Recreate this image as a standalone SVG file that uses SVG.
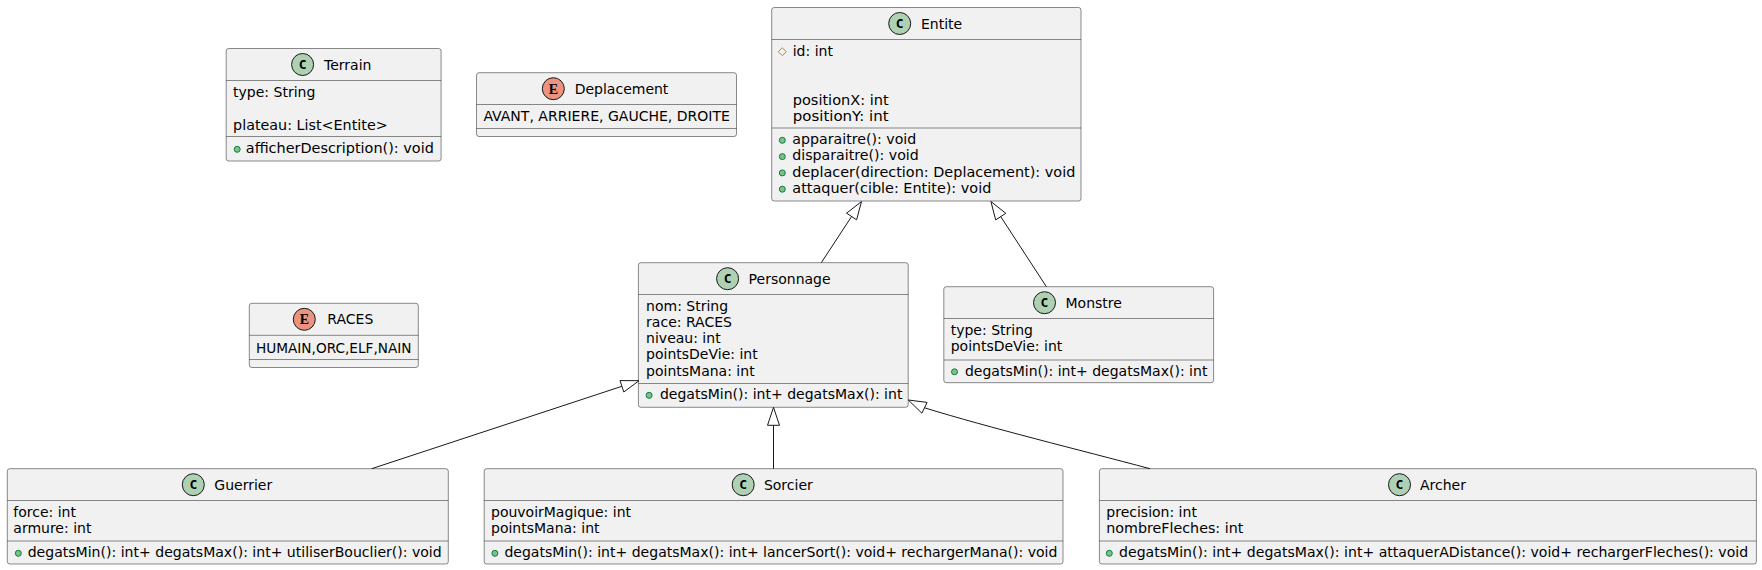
<svg xmlns="http://www.w3.org/2000/svg" width="1762" height="570" viewBox="0 0 1762 570">
<style>
.bg{fill:#FFFFFF}
.box{fill:#F1F1F1;stroke:#181818;stroke-width:0.5}
.sep{stroke:#181818;stroke-width:0.5}
.cc{fill:#ADD1B2;stroke:#181818;stroke-width:1}
.ce{fill:#EB937F;stroke:#181818;stroke-width:1}
.t{font-family:"DejaVu Sans",sans-serif;font-size:14px;fill:#000000}
.gc{font-family:"DejaVu Sans Mono","DejaVu Sans",monospace;font-size:13px;font-weight:bold;fill:#000000;text-anchor:middle}
.ge{font-family:"Liberation Serif","DejaVu Serif",serif;font-size:14px;font-weight:bold;fill:#000000;text-anchor:middle}
.pub{fill:#84BE84;stroke:#038048;stroke-width:1}
.prot{fill:none;stroke:#B38D22;stroke-width:1}
.edge{fill:none;stroke:#181818;stroke-width:1}
.head{fill:none;stroke:#181818;stroke-width:1}
</style>
<rect class="bg" x="0" y="0" width="1762" height="570"/>

<g id="Terrain">
<rect class="box" x="226.2" y="48.5" width="214.9" height="112.5" rx="2.5"/>
<circle class="cc" cx="302.6" cy="64.5" r="11"/>
<text class="gc" x="302.6" y="69">C</text>
<text class="t" x="324" y="69.5">Terrain</text>
<line class="sep" x1="226.2" y1="80.5" x2="441.1" y2="80.5"/>
<text class="t" x="233.1" y="97.3">type: String</text>
<text class="t" x="233.1" y="129.9" textLength="154.6" lengthAdjust="spacingAndGlyphs">plateau: List&lt;Entite&gt;</text>
<line class="sep" x1="226.2" y1="136.5" x2="441.1" y2="136.5"/>
<circle class="pub" cx="237.2" cy="149.3" r="3"/>
<text class="t" x="245.8" y="153" textLength="188" lengthAdjust="spacingAndGlyphs">afficherDescription(): void</text>
</g>

<g id="Deplacement">
<rect class="box" x="476.5" y="72.7" width="260" height="63.8" rx="2.5"/>
<circle class="ce" cx="553.3" cy="88.7" r="11"/>
<text class="ge" x="553.3" y="93.5">E</text>
<text class="t" x="574.7" y="93.7">Deplacement</text>
<line class="sep" x1="476.5" y1="104.5" x2="736.5" y2="104.5"/>
<text class="t" x="483.4" y="121" textLength="246.5" lengthAdjust="spacingAndGlyphs">AVANT, ARRIERE, GAUCHE, DROITE</text>
<line class="sep" x1="476.5" y1="128.5" x2="736.5" y2="128.5"/>
</g>

<g id="RACES">
<rect class="box" x="249.3" y="303.3" width="169" height="64.2" rx="2.5"/>
<circle class="ce" cx="304.3" cy="319.3" r="11"/>
<text class="ge" x="304.3" y="324.1">E</text>
<text class="t" x="327.3" y="324.3">RACES</text>
<line class="sep" x1="249.3" y1="335.3" x2="418.3" y2="335.3"/>
<text class="t" x="256" y="352.5" textLength="155.5" lengthAdjust="spacingAndGlyphs">HUMAIN,ORC,ELF,NAIN</text>
<line class="sep" x1="249.3" y1="359.5" x2="418.3" y2="359.5"/>
</g>

<g id="Entite">
<rect class="box" x="771.7" y="7.5" width="309.3" height="193.5" rx="2.5"/>
<circle class="cc" cx="899.7" cy="23.5" r="11"/>
<text class="gc" x="899.7" y="28">C</text>
<text class="t" x="921" y="28.5">Entite</text>
<line class="sep" x1="771.7" y1="39.5" x2="1081" y2="39.5"/>
<polygon class="prot" points="782.3,47.7 786.3,51.7 782.3,55.7 778.3,51.7"/>
<text class="t" x="792.7" y="56">id: int</text>
<text class="t" x="792.7" y="104.9" textLength="96" lengthAdjust="spacingAndGlyphs">positionX: int</text>
<text class="t" x="792.7" y="121.2" textLength="96" lengthAdjust="spacingAndGlyphs">positionY: int</text>
<line class="sep" x1="771.7" y1="128" x2="1081" y2="128"/>
<circle class="pub" cx="782.3" cy="140.3" r="3"/>
<text class="t" x="792.3" y="144" textLength="124" lengthAdjust="spacingAndGlyphs">apparaitre(): void</text>
<circle class="pub" cx="782.3" cy="156.6" r="3"/>
<text class="t" x="792.3" y="160.3" textLength="126.5" lengthAdjust="spacingAndGlyphs">disparaitre(): void</text>
<circle class="pub" cx="782.3" cy="172.9" r="3"/>
<text class="t" x="792.3" y="176.6" textLength="283" lengthAdjust="spacingAndGlyphs">deplacer(direction: Deplacement): void</text>
<circle class="pub" cx="782.3" cy="189.2" r="3"/>
<text class="t" x="792.3" y="192.9" textLength="199" lengthAdjust="spacingAndGlyphs">attaquer(cible: Entite): void</text>
</g>

<g id="Personnage">
<rect class="box" x="638.4" y="262.7" width="269.8" height="144.6" rx="2.5"/>
<circle class="cc" cx="727.6" cy="278.7" r="11"/>
<text class="gc" x="727.6" y="283.2">C</text>
<text class="t" x="748.6" y="283.7">Personnage</text>
<line class="sep" x1="638.4" y1="294.5" x2="908.2" y2="294.5"/>
<text class="t" x="646.1" y="310.8">nom: String</text>
<text class="t" x="646.1" y="327">race: RACES</text>
<text class="t" x="646.1" y="343.2">niveau: int</text>
<text class="t" x="646.1" y="359.4">pointsDeVie: int</text>
<text class="t" x="646.1" y="375.6">pointsMana: int</text>
<line class="sep" x1="638.4" y1="383.5" x2="908.2" y2="383.5"/>
<circle class="pub" cx="649.1" cy="395.3" r="3"/>
<text class="t" x="659.9" y="399" textLength="242.5" lengthAdjust="spacingAndGlyphs">degatsMin(): int+ degatsMax(): int</text>
</g>

<g id="Monstre">
<rect class="box" x="943.8" y="286.7" width="269.8" height="96" rx="2.5"/>
<circle class="cc" cx="1044.5" cy="302.7" r="11"/>
<text class="gc" x="1044.5" y="307.2">C</text>
<text class="t" x="1065.5" y="307.7">Monstre</text>
<line class="sep" x1="943.8" y1="318.5" x2="1213.6" y2="318.5"/>
<text class="t" x="950.7" y="335">type: String</text>
<text class="t" x="950.7" y="351.3">pointsDeVie: int</text>
<line class="sep" x1="943.8" y1="360" x2="1213.6" y2="360"/>
<circle class="pub" cx="954.5" cy="371.8" r="3"/>
<text class="t" x="964.9" y="375.5" textLength="242.5" lengthAdjust="spacingAndGlyphs">degatsMin(): int+ degatsMax(): int</text>
</g>

<g id="Guerrier">
<rect class="box" x="7.3" y="468.7" width="441" height="95.3" rx="2.5"/>
<circle class="cc" cx="193.3" cy="484.7" r="11"/>
<text class="gc" x="193.3" y="489.2">C</text>
<text class="t" x="214.3" y="489.7">Guerrier</text>
<line class="sep" x1="7.3" y1="500.5" x2="448.3" y2="500.5"/>
<text class="t" x="13.3" y="517">force: int</text>
<text class="t" x="13.3" y="533.3">armure: int</text>
<line class="sep" x1="7.3" y1="541" x2="448.3" y2="541"/>
<circle class="pub" cx="18.3" cy="553.3" r="3"/>
<text class="t" x="27.7" y="557" textLength="414" lengthAdjust="spacingAndGlyphs">degatsMin(): int+ degatsMax(): int+ utiliserBouclier(): void</text>
</g>

<g id="Sorcier">
<rect class="box" x="484.2" y="468.7" width="578.8" height="95.3" rx="2.5"/>
<circle class="cc" cx="743.2" cy="484.7" r="11"/>
<text class="gc" x="743.2" y="489.2">C</text>
<text class="t" x="763.9" y="489.7">Sorcier</text>
<line class="sep" x1="484.2" y1="500.5" x2="1063" y2="500.5"/>
<text class="t" x="491" y="517" textLength="140" lengthAdjust="spacingAndGlyphs">pouvoirMagique: int</text>
<text class="t" x="491" y="533.3">pointsMana: int</text>
<line class="sep" x1="484.2" y1="541" x2="1063" y2="541"/>
<circle class="pub" cx="494.9" cy="553.3" r="3"/>
<text class="t" x="504.4" y="557" textLength="553" lengthAdjust="spacingAndGlyphs">degatsMin(): int+ degatsMax(): int+ lancerSort(): void+ rechargerMana(): void</text>
</g>

<g id="Archer">
<rect class="box" x="1099.4" y="468.7" width="657" height="95.3" rx="2.5"/>
<circle class="cc" cx="1399.5" cy="484.7" r="11"/>
<text class="gc" x="1399.5" y="489.2">C</text>
<text class="t" x="1420" y="489.7">Archer</text>
<line class="sep" x1="1099.4" y1="500.5" x2="1756.4" y2="500.5"/>
<text class="t" x="1106.3" y="517">precision: int</text>
<text class="t" x="1106.3" y="533.3" textLength="137" lengthAdjust="spacingAndGlyphs">nombreFleches: int</text>
<line class="sep" x1="1099.4" y1="541" x2="1756.4" y2="541"/>
<circle class="pub" cx="1109.3" cy="553.3" r="3"/>
<text class="t" x="1119.1" y="557" textLength="629" lengthAdjust="spacingAndGlyphs">degatsMin(): int+ degatsMax(): int+ attaquerADistance(): void+ rechargerFleches(): void</text>
</g>

<g id="connectors">
<path class="edge" d="M821.3,262.7 L851.6,216.5"/>
<polygon class="head" points="861.5,201.5 856.6,219.8 846.6,213.2 861.5,201.5"/>
<path class="edge" d="M1046.4,286.7 L1000.7,216.6"/>
<polygon class="head" points="990.9,201.5 1005.8,213.3 995.7,219.9 990.9,201.5"/>
<path class="edge" d="M773.5,468.7 L773.5,425.3"/>
<polygon class="head" points="773.5,407.3 779.5,425.3 767.5,425.3 773.5,407.3"/>
<path class="edge" d="M371.7,468.7 L621.9,386.3"/>
<polygon class="head" points="639,380.7 623.8,392 620,380.6 639,380.7"/>
<path class="edge" d="M1150,468.7 C1080,450 990,428 924.5,407.8"/>
<polygon class="head" points="908.3,400 927.1,402.4 921.9,413.2 908.3,400"/>
</g>
</svg>
